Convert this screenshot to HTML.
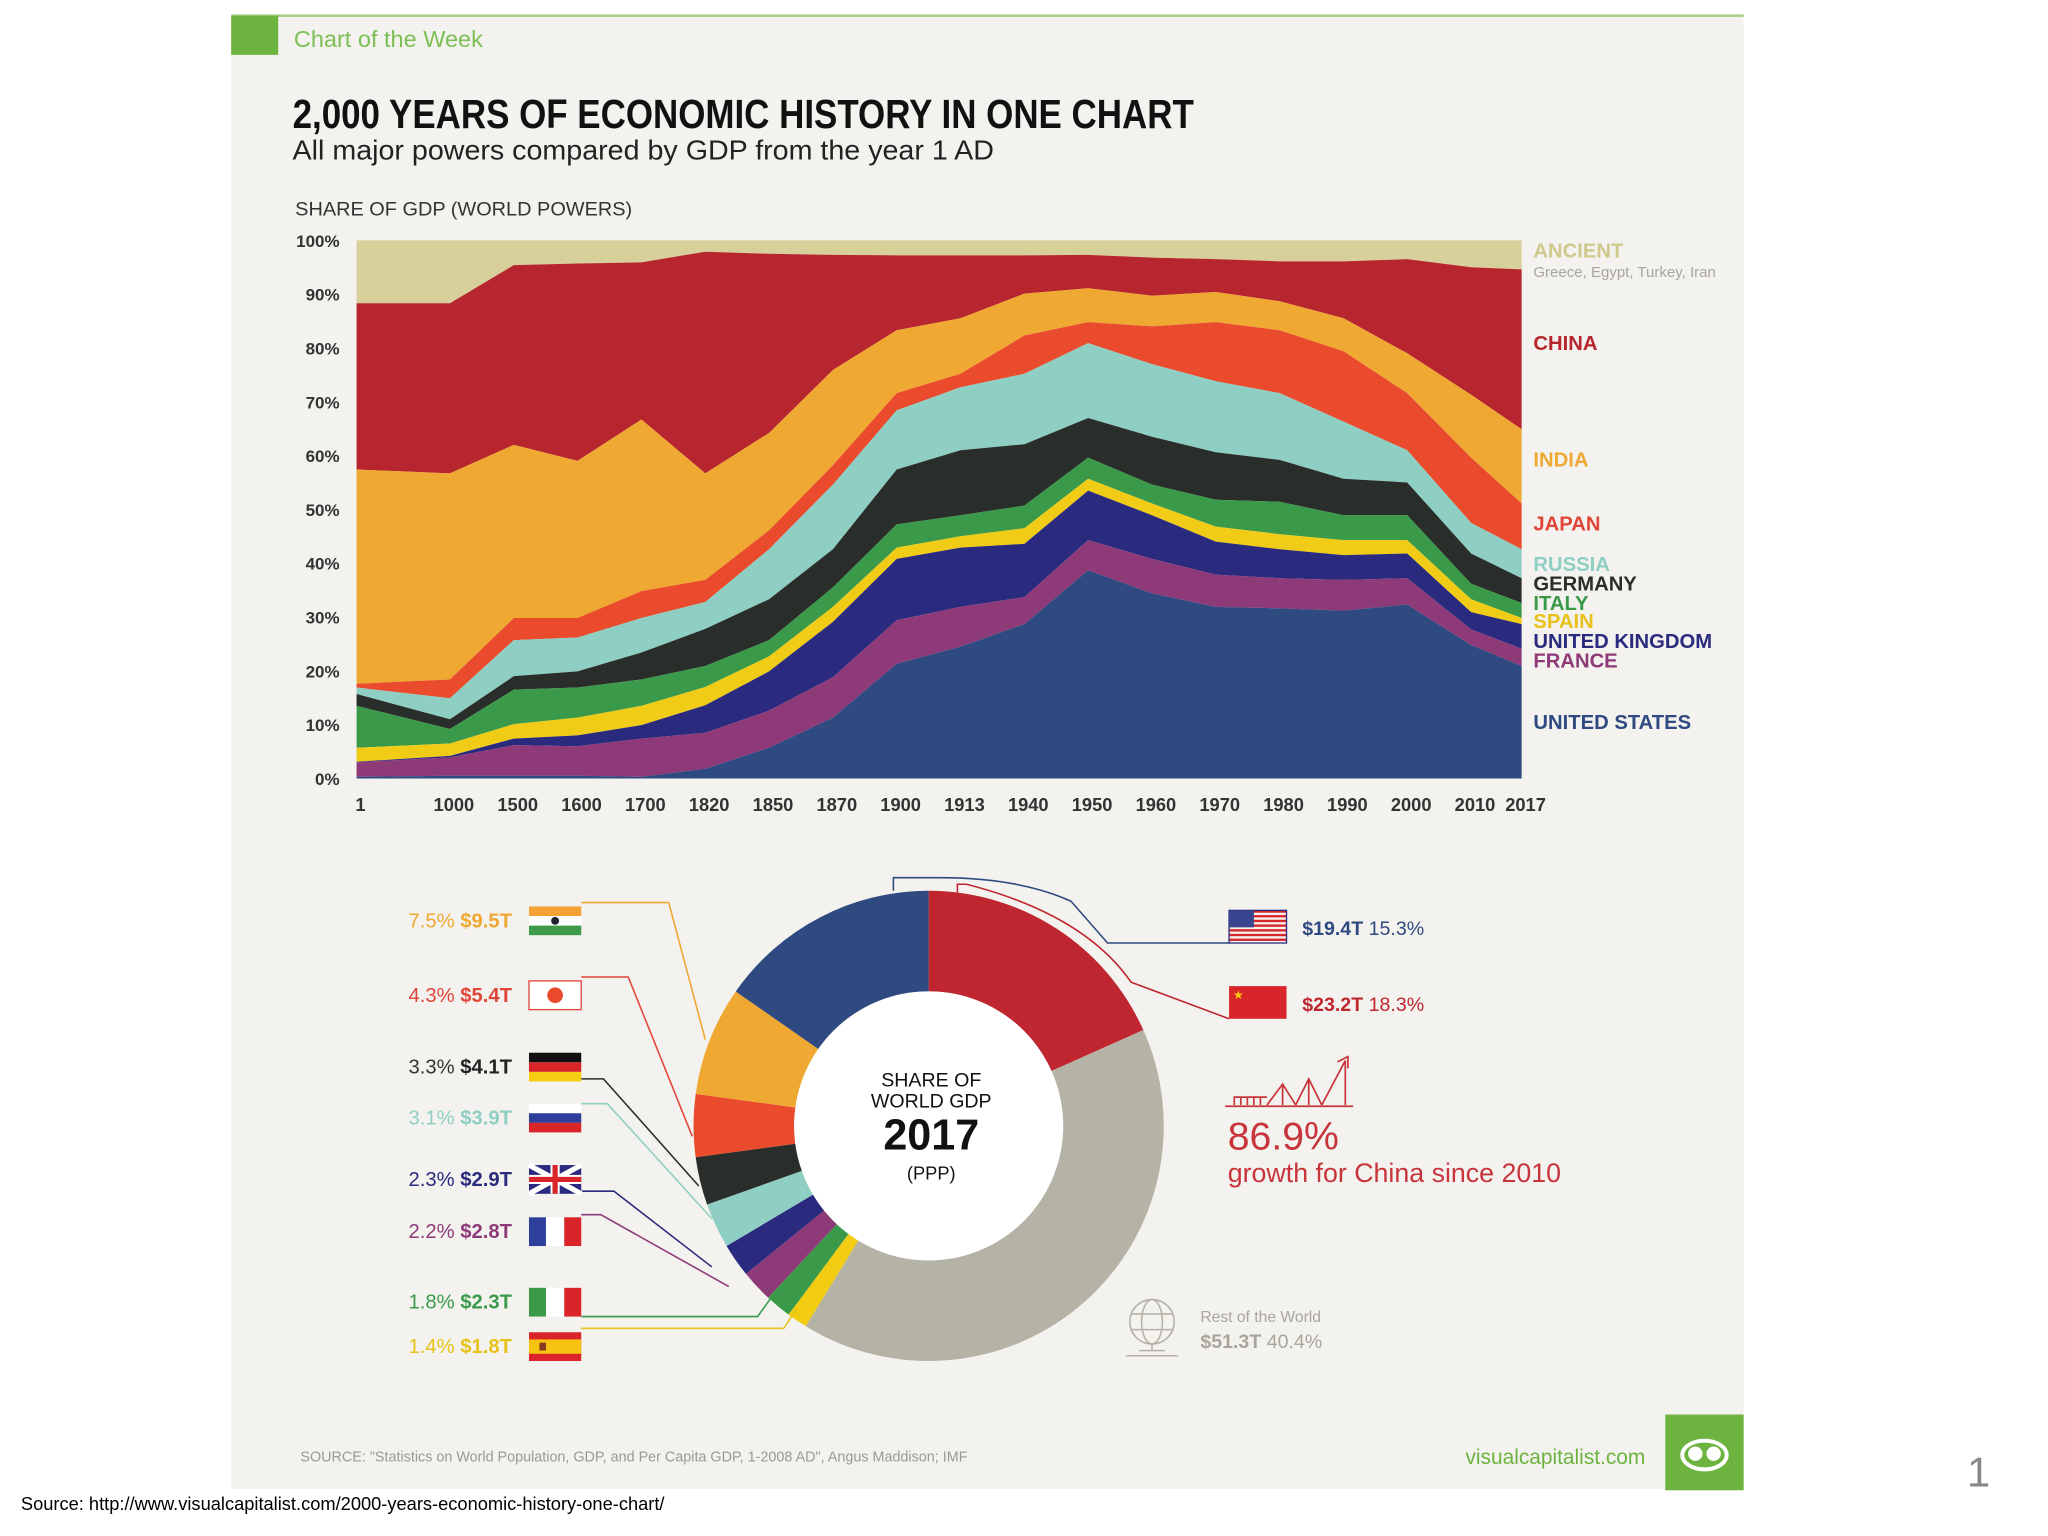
<!DOCTYPE html>
<html><head><meta charset="utf-8"><style>
html,body{margin:0;padding:0;background:#fff;}
svg{display:block;font-family:"Liberation Sans",sans-serif;}
</style></head><body>
<svg id="root" width="2048" height="1536" viewBox="0 0 1568 1176" xmlns="http://www.w3.org/2000/svg">
<rect x="0" y="0" width="1568" height="1176" fill="#ffffff"/>
<rect x="177" y="12" width="1158" height="1128" fill="#f3f2ee"/>
<rect x="177" y="11" width="1158" height="2" fill="#a9d08c"/>
<rect x="177" y="12" width="36" height="30" fill="#6cb33f"/>
<text x="225" y="36" font-size="18" fill="#7bbf55">Chart of the Week</text>
<text x="224" y="98" font-size="31" font-weight="bold" fill="#111" textLength="690" lengthAdjust="spacingAndGlyphs">2,000 YEARS OF ECONOMIC HISTORY IN ONE CHART</text>
<text x="224" y="122" font-size="21" fill="#222" textLength="537" lengthAdjust="spacingAndGlyphs">All major powers compared by GDP from the year 1 AD</text>
<text x="226" y="165" font-size="15" fill="#333" textLength="258" lengthAdjust="spacingAndGlyphs">SHARE OF GDP (WORLD POWERS)</text>
<g id="area-chart"></g>
<g id="right-labels"></g>
<g id="donut"></g>
<g id="legend-left"></g>
<text x="230" y="1119" font-size="11" fill="#999">SOURCE: "Statistics on World Population, GDP, and Per Capita GDP, 1-2008 AD", Angus Maddison; IMF</text>
<text x="1122" y="1121" font-size="16" fill="#6cb33f">visualcapitalist.com</text>
<rect x="1275" y="1083" width="60" height="58" fill="#6cb33f"/>
<g fill="none" stroke="#fff" stroke-width="3"><ellipse cx="1305" cy="1114" rx="17" ry="11"/><circle cx="1298" cy="1113" r="4" fill="#fff"/><circle cx="1312" cy="1113" r="4" fill="#fff"/></g>
<text x="1506" y="1138" font-size="32" fill="#888">1</text>
<text x="16" y="1156" font-size="14" fill="#000">Source: http://www.visualcapitalist.com/2000-years-economic-history-one-chart/</text>
</svg>
<script>
const NS='http://www.w3.org/2000/svg';
// ---------- AREA CHART DATA (cumulative stacked tops, % of world GDP) ----------
const years=['1','1000','1500','1600','1700','1820','1850','1870','1900','1913','1940','1950','1960','1970','1980','1990','2000','2010','2017'];
const yTicks=[0,10,20,30,40,50,60,70,80,90,100];
const usTop     =[0.3,0.5,0.5,0.5,0.3,1.8,5.7,11.3,21.3,24.5,28.7,38.7,34.4,31.9,31.6,31.2,32.3,24.8,20.9];
const franceTop =[3.0,3.9,6.2,6.0,7.4,8.5,12.6,18.8,29.4,31.9,33.7,44.3,40.8,37.9,37.2,36.9,37.2,27.7,24.1];
const ukTop     =[3.1,4.2,7.4,8.0,9.9,13.6,19.9,29.1,40.8,42.9,43.6,53.5,48.9,44.0,42.6,41.5,41.8,30.9,28.7];
const spainTop  =[5.7,6.5,10.1,11.3,13.5,17.0,22.7,31.9,42.9,45.0,46.5,55.7,51.1,46.8,45.4,44.3,44.3,33.3,29.8];
const italyTop  =[13.5,9.2,16.5,16.9,18.4,20.9,25.7,35.5,47.2,48.9,50.7,59.6,54.6,51.8,51.4,48.9,48.9,36.2,32.6];
const germanyTop=[15.7,11.0,19.0,19.9,23.4,27.8,33.3,42.6,57.4,61.0,62.1,67.0,63.5,60.6,59.2,55.7,55.0,41.8,37.2];
const russiaTop =[16.9,14.9,25.7,26.2,29.8,32.8,42.6,54.6,68.4,72.7,75.2,80.9,77.0,73.8,71.6,66.3,61.0,47.5,42.6];
const japanTop  =[17.6,18.4,29.8,29.8,34.8,36.9,46.1,58.2,71.6,75.2,82.3,84.8,84.0,84.8,83.3,79.4,71.6,59.6,51.1];
const indiaTop  =[57.4,56.7,62.0,59.0,66.7,56.7,64.2,75.9,83.3,85.5,90.1,91.1,89.7,90.4,88.7,85.5,79.0,71.3,64.9];
const chinaTop  =[88.3,88.3,95.4,95.7,95.9,97.9,97.5,97.3,97.2,97.2,97.2,97.3,96.8,96.5,96.1,96.1,96.5,95.0,94.6];
const ancientTop=[100,100,100,100,100,100,100,100,100,100,100,100,100,100,100,100,100,100,100];
const seriesNames=['united-states','france','united-kingdom','spain','italy','germany','russia','japan','india','china','ancient'];
const seriesTops=[usTop,franceTop,ukTop,spainTop,italyTop,germanyTop,russiaTop,japanTop,indiaTop,chinaTop,ancientTop];
const seriesColors=['#2e4a80','#8e3a78','#2a2a7e','#f1cc16','#3a9a4a','#2a2e2b','#8fcfc3','#e94b2c','#efa832','#b7262f','#d7d09b'];
// ---------- DONUT DATA ----------
const donutNames=['china','rest-of-world','spain','italy','france','united-kingdom','russia','germany','japan','india','united-states'];
const donutShares=[18.3,40.4,1.4,1.8,2.2,2.3,3.1,3.3,4.3,7.5,15.3];
const donutColors=['#c0262f','#b5b3a6','#f2cc12','#3a9a4a','#8e3a78','#2a2a7e','#8fcfc3','#2a2e2b','#e94b2c','#efa832','#2e4a80'];
const legendLeftNames=['india','japan','germany','russia','united-kingdom','france','italy','spain'];
const legendLeftPct=['7.5%','4.3%','3.3%','3.1%','2.3%','2.2%','1.8%','1.4%'];
const legendLeftVal=['$9.5T','$5.4T','$4.1T','$3.9T','$2.9T','$2.8T','$2.3T','$1.8T'];

function mk(tag,attrs,parent){const e=document.createElementNS(NS,tag);for(const k in attrs)e.setAttribute(k,attrs[k]);if(parent)parent.appendChild(e);return e;}

const L=273,R=1165,T=184,B=596;
const firstGap=71.5,lastGap=38.7;
const step=(R-L-firstGap-lastGap)/(years.length-3);
function xPos(i){if(i===0)return L;if(i===years.length-1)return R;return L+firstGap+(i-1)*step;}
function yPos(v){return B-(v/100)*(B-T);}

const chart=document.getElementById('area-chart');
for(let s=seriesTops.length-1;s>=0;s--){
  const top=seriesTops[s];const bot=s>0?seriesTops[s-1]:null;
  let d='';
  for(let i=0;i<years.length;i++)d+=(i?'L':'M')+xPos(i).toFixed(1)+' '+yPos(top[i]).toFixed(1)+' ';
  for(let i=years.length-1;i>=0;i--)d+='L'+xPos(i).toFixed(1)+' '+yPos(bot?bot[i]:0).toFixed(1)+' ';
  const p=mk('path',{d:d+'Z',fill:seriesColors[s]},chart);
  
  
}
yTicks.forEach(t=>{
  const tx=mk('text',{x:260,y:yPos(t)+5,'font-size':13,'font-weight':'bold','text-anchor':'end',fill:'#333'},chart);
  tx.textContent=t+'%';
  
  
});
years.forEach((yr,i)=>{
  let xx=xPos(i)+3;
  const tx=mk('text',{x:xx,y:621,'font-size':14,'font-weight':'bold','text-anchor':'middle',fill:'#333'},chart);
  tx.textContent=yr;
  
  
});

const rl=document.getElementById('right-labels');
const rLabels=[['ANCIENT',197,'#cfc98d'],['CHINA',268,'#b7262f'],['INDIA',357,'#efa832'],['JAPAN',406,'#e0453a'],['RUSSIA',437,'#8fcfc3'],['GERMANY',452,'#2a2e2b'],['ITALY',467,'#3a9a4a'],['SPAIN',481,'#e6c21a'],['UNITED KINGDOM',496,'#2a2a7e'],['FRANCE',511,'#8e3a78'],['UNITED STATES',558,'#2e4a80']];
rLabels.forEach(r=>{const t=mk('text',{x:1174,y:r[1],'font-size':15.5,'font-weight':'bold',fill:r[2]},rl);t.textContent=r[0];
  
  });
const g2=mk('text',{x:1174,y:212,'font-size':11.5,fill:'#a8a69a'},rl);g2.textContent='Greece, Egypt, Turkey, Iran';



const dn=document.getElementById('donut');
const cx=711,cy=862,Ro=180,Ri=103;
const total=donutShares.reduce((a,b)=>a+b,0);
let acc=0;
function pt(r,a){return [cx+r*Math.sin(a),cy-r*Math.cos(a)];}
donutShares.forEach((v,i)=>{
  const a0=acc/total*2*Math.PI;acc+=v;const a1=acc/total*2*Math.PI;
  const lg=(a1-a0)>Math.PI?1:0;
  const p0=pt(Ro,a0),p1=pt(Ro,a1),p2=pt(Ri,a1),p3=pt(Ri,a0);
  const d=`M${p0[0]} ${p0[1]} A${Ro} ${Ro} 0 ${lg} 1 ${p1[0]} ${p1[1]} L${p2[0]} ${p2[1]} A${Ri} ${Ri} 0 ${lg} 0 ${p3[0]} ${p3[1]} Z`;
  const p=mk('path',{d:d,fill:donutColors[i]},dn);
  
  
});
mk('circle',{cx:cx,cy:cy,r:Ri,fill:'#fff'},dn);
[['SHARE OF',832,15,'normal'],['WORLD GDP',848,15,'normal'],['2017',880,33,'bold'],['(PPP)',903,14,'normal']].forEach(c=>{
  const t=mk('text',{x:cx+2,y:c[1],'font-size':c[2],'font-weight':c[3],'text-anchor':'middle',fill:'#111'},dn);t.textContent=c[0];
  
  
});

const lg=document.getElementById('legend-left');
const rowsY=[705,762,817,856,903,943,997,1031];
const pctColors=['#efa832','#e0453a','#333','#8fcfc3','#2a2a7e','#8e3a78','#3a9a4a','#e6c21a'];
const valColors=['#efa832','#e0453a','#222','#8fcfc3','#2a2a7e','#8e3a78','#3a9a4a','#e6c21a'];
const leaders=[
 'M445 691 L512 691 L540 796','M445 748 L481 748 L530 870','M445 826 L462 826 L535 908','M445 845 L465 845 L545 933',
 'M445 912 L470 912 L545 970','M445 930 L460 930 L558 985','M445 1008 L580 1008 L593 990','M445 1017 L600 1017 L610 1002'];
const leaderColors=['#efa832','#e0453a','#2a2e2b','#8fcfc3','#2a2a7e','#8e3a78','#3a9a4a','#e6c21a'];
legendLeftNames.forEach((n,i)=>{
  const y=rowsY[i];
  const l=mk('path',{d:leaders[i],fill:'none',stroke:leaderColors[i],'stroke-width':1.2},lg);
  
  
  const t=mk('text',{x:392,y:y+5,'font-size':15.5,'text-anchor':'end',fill:pctColors[i]},lg);
  
  
  const s1=mk('tspan',{},t);s1.textContent=legendLeftPct[i]+' ';
  const s2=mk('tspan',{'font-weight':'bold',fill:valColors[i]},t);s2.textContent=legendLeftVal[i];
  const f=mk('g',{},lg);
  
  
  const fx=405,fy=y-11,fw=40,fh=22;
  if(n==='india'){mk('rect',{x:fx,y:fy,width:fw,height:fh/3,fill:'#f4a233'},f);mk('rect',{x:fx,y:fy+fh/3,width:fw,height:fh/3,fill:'#fff'},f);mk('rect',{x:fx,y:fy+2*fh/3,width:fw,height:fh/3,fill:'#3d9a46'},f);mk('circle',{cx:fx+20,cy:fy+11,r:3,fill:'#223'},f);}
  else if(n==='japan'){mk('rect',{x:fx,y:fy,width:fw,height:fh,fill:'#fff',stroke:'#e0453a'},f);mk('circle',{cx:fx+20,cy:fy+11,r:6,fill:'#e94b2c'},f);}
  else if(n==='germany'){mk('rect',{x:fx,y:fy,width:fw,height:fh/3,fill:'#111'},f);mk('rect',{x:fx,y:fy+fh/3,width:fw,height:fh/3,fill:'#d9252a'},f);mk('rect',{x:fx,y:fy+2*fh/3,width:fw,height:fh/3,fill:'#f6cd11'},f);}
  else if(n==='russia'){mk('rect',{x:fx,y:fy,width:fw,height:fh/3,fill:'#fff'},f);mk('rect',{x:fx,y:fy+fh/3,width:fw,height:fh/3,fill:'#2d3f9a'},f);mk('rect',{x:fx,y:fy+2*fh/3,width:fw,height:fh/3,fill:'#d9252a'},f);}
  else if(n==='united-kingdom'){mk('rect',{x:fx,y:fy,width:fw,height:fh,fill:'#2a2a7e'},f);mk('path',{d:`M${fx} ${fy}L${fx+fw} ${fy+fh}M${fx+fw} ${fy}L${fx} ${fy+fh}`,stroke:'#fff','stroke-width':4},f);mk('path',{d:`M${fx+20} ${fy}V${fy+fh}M${fx} ${fy+11}H${fx+fw}`,stroke:'#fff','stroke-width':7},f);mk('path',{d:`M${fx+20} ${fy}V${fy+fh}M${fx} ${fy+11}H${fx+fw}`,stroke:'#d9252a','stroke-width':4},f);}
  else if(n==='france'){mk('rect',{x:fx,y:fy,width:13,height:fh,fill:'#2d3f9a'},f);mk('rect',{x:fx+13,y:fy,width:14,height:fh,fill:'#fff'},f);mk('rect',{x:fx+27,y:fy,width:13,height:fh,fill:'#d9252a'},f);}
  else if(n==='italy'){mk('rect',{x:fx,y:fy,width:13,height:fh,fill:'#3a9a4a'},f);mk('rect',{x:fx+13,y:fy,width:14,height:fh,fill:'#fff'},f);mk('rect',{x:fx+27,y:fy,width:13,height:fh,fill:'#d9252a'},f);}
  else if(n==='spain'){mk('rect',{x:fx,y:fy,width:fw,height:fh,fill:'#d9252a'},f);mk('rect',{x:fx,y:fy+5.5,width:fw,height:11,fill:'#f6c311'},f);mk('rect',{x:fx+8,y:fy+8,width:5,height:6,fill:'#8a3a20'},f);}
});

const right=[['united-states',697,'$19.4T','15.3%','#2e4a80','M941 722 L848 722 L820 690 Q780 672 720 672 L684 672 L684 682'],['china',755,'$23.2T','18.3%','#c0262f','M941 780 L866 752 Q830 700 740 677 L733 677 L733 684']];
right.forEach(r=>{
  const l=mk('path',{d:r[5],fill:'none',stroke:r[4],'stroke-width':1.2},lg);
  
  
  const f=mk('g',{},lg);
  
  
  if(r[0]==='united-states'){
    for(let k=0;k<7;k++)mk('rect',{x:941,y:r[1]+k*3.6,width:44,height:1.8,fill:'#d9252a'},f);
    mk('rect',{x:941,y:r[1],width:44,height:25,fill:'none',stroke:'#2a2a7e','stroke-width':1},f);
    mk('rect',{x:941,y:r[1],width:19,height:13,fill:'#3a4590'},f);
  } else {
    mk('rect',{x:941,y:r[1],width:44,height:25,fill:'#d9252a'},f);
    mk('text',{x:944,y:r[1]+10,'font-size':9,fill:'#f6cd11'},f).textContent='★';
  }
  const t=mk('text',{x:997,y:r[1]+19,'font-size':15,fill:r[4]},lg);
  
  
  const a=mk('tspan',{'font-weight':'bold'},t);a.textContent=r[2]+' ';
  const b=mk('tspan',{},t);b.textContent=r[3];
});
const gi=mk('g',{fill:'none',stroke:'#c8343c','stroke-width':1.3},lg);


mk('path',{d:'M938 847 H1036 M945 846 V840 H970 M950 840 V846 M955 840 V846 M960 840 V846 M965 840 V846 M970 846 L982 830 L992 846 M982 830 V846 M992 846 L1002 826 L1012 846 M1002 826 V846 M1012 846 L1030 812 M1030 812 V846 M1024 813 L1032 809 L1032 818'},gi);
const g1=mk('text',{x:940,y:880,'font-size':30,fill:'#c8343c'},lg);g1.textContent='86.9%';


const g3=mk('text',{x:940,y:905,'font-size':20.5,fill:'#c8343c'},lg);g3.textContent='growth for China since 2010';


const gl=mk('g',{fill:'none',stroke:'#b5b3a6','stroke-width':1.2},lg);


mk('circle',{cx:882,cy:1012,r:17},gl);mk('ellipse',{cx:882,cy:1012,rx:8,ry:17},gl);mk('path',{d:'M866 1006 H898 M866 1018 H898 M872 1034 H892 M882 1029 V1034 M862 1038 H902'},gl);
const rw1=mk('text',{x:919,y:1012,'font-size':12,fill:'#a8a69a'},lg);rw1.textContent='Rest of the World';


const rw2=mk('text',{x:919,y:1032,'font-size':15,fill:'#a8a69a'},lg);


const rwa=mk('tspan',{'font-weight':'bold'},rw2);rwa.textContent='$51.3T ';
const rwb=mk('tspan',{},rw2);rwb.textContent='40.4%';
</script>
</body></html>
